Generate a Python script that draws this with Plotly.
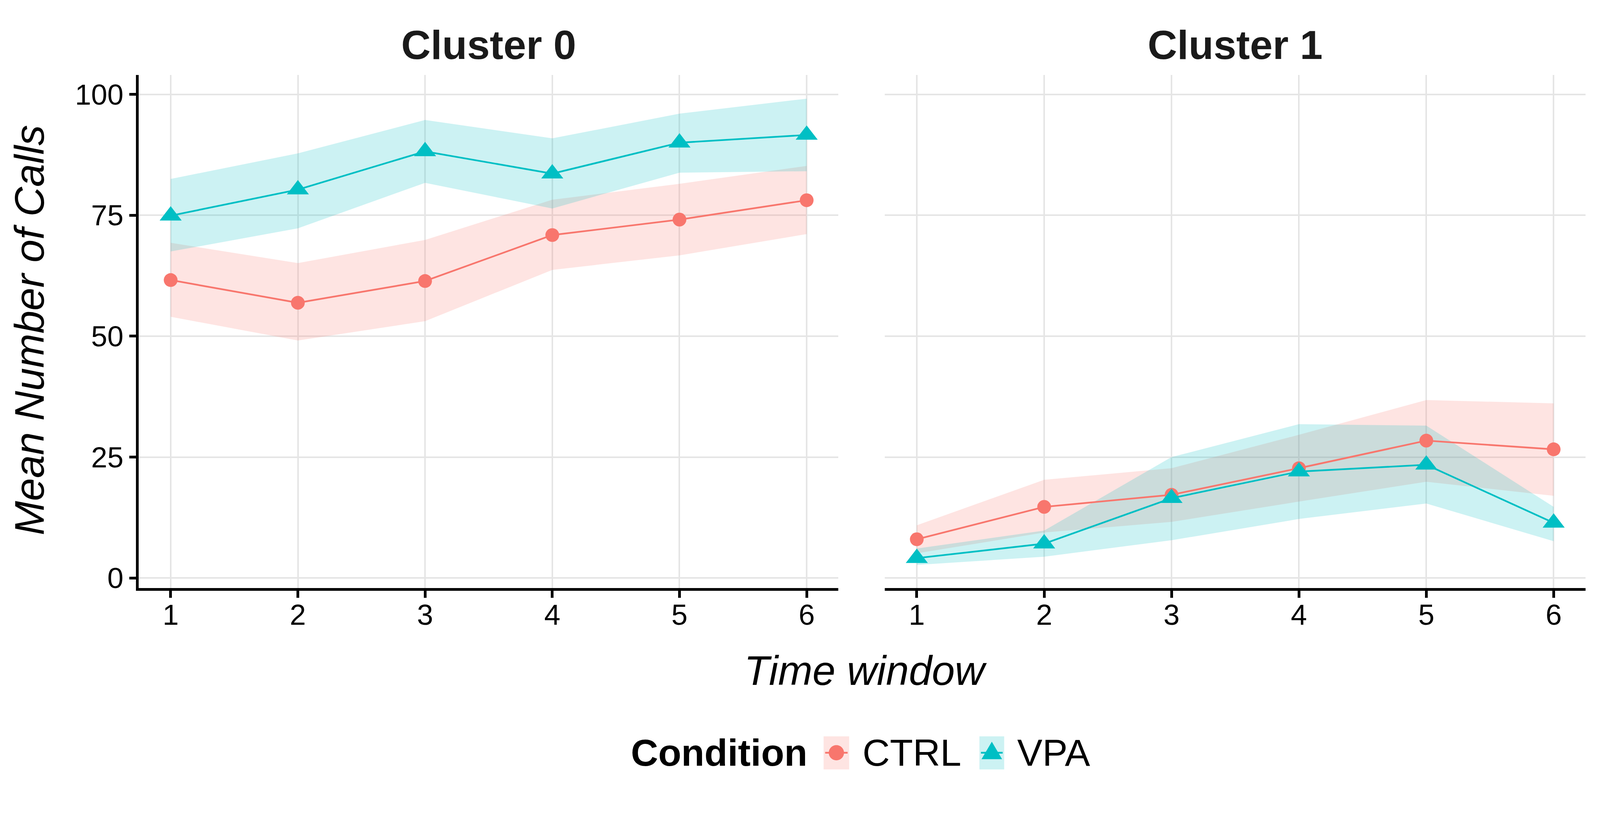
import plotly.graph_objects as go

# ---------------- data ----------------
time_window = [1, 2, 3, 4, 5, 6]
x_ticks = [1, 2, 3, 4, 5, 6]
y_ticks = [0, 25, 50, 75, 100]
clusters = ["Cluster 0", "Cluster 1"]
conditions = ["CTRL", "VPA"]

c0_ctrl_mean = [61.6, 56.9, 61.4, 70.9, 74.1, 78.1]
c0_ctrl_lo = [54.0, 49.1, 53.1, 63.7, 66.7, 71.1]
c0_ctrl_hi = [69.3, 65.1, 69.9, 78.2, 81.5, 85.2]
c0_vpa_mean = [74.9, 80.3, 88.2, 83.6, 90.0, 91.6]
c0_vpa_lo = [67.5, 72.3, 81.7, 76.4, 83.8, 84.1]
c0_vpa_hi = [82.5, 87.8, 94.7, 90.9, 96.0, 99.1]

c1_ctrl_mean = [8.0, 14.7, 17.2, 22.7, 28.4, 26.6]
c1_ctrl_lo = [5.1, 9.4, 11.6, 15.8, 19.9, 17.0]
c1_ctrl_hi = [10.9, 20.3, 22.7, 29.6, 36.8, 36.1]
c1_vpa_mean = [4.1, 7.1, 16.5, 22.0, 23.4, 11.4]
c1_vpa_lo = [2.7, 4.4, 7.8, 12.2, 15.4, 7.6]
c1_vpa_hi = [6.1, 9.8, 25.0, 31.8, 31.5, 14.7]

# ---------------- style ----------------
# The figure fills the browser window (responsive); positions are given in
# reference-image pixels and converted to paper fractions.
W = 4200
K = 1.022          # capture scale relative to CSS pixels
M = 8 * K          # page margin as seen in the capture
FIG_W = W - 2 * M  # figure width as seen in the capture
FIG_H = 2122.0     # figure height as seen in the capture
FONT = "Liberation Sans, Arial, Helvetica, sans-serif"
COL = {"CTRL": "#F8766D", "VPA": "#00BFC4"}
FILL = {"CTRL": "rgba(248,118,109,0.2)", "VPA": "rgba(0,191,196,0.2)"}
SYM = {"CTRL": "circle", "VPA": "triangle-up"}
MSIZE = {"CTRL": 36 / K, "VPA": 50 / K}
GRID = "#E5E5E5"


def px_x(p):
    return (p - M) / FIG_W


def px_y(p):
    return 1 - (p - M) / FIG_H


def fs(v):
    return v / K


panels = [
    ("x", "y", {"CTRL": (c0_ctrl_mean, c0_ctrl_lo, c0_ctrl_hi),
                "VPA": (c0_vpa_mean, c0_vpa_lo, c0_vpa_hi)}),
    ("x2", "y2", {"CTRL": (c1_ctrl_mean, c1_ctrl_lo, c1_ctrl_hi),
                  "VPA": (c1_vpa_mean, c1_vpa_lo, c1_vpa_hi)}),
]

fig = go.Figure()

for xa, ya, series in panels:
    for cond in conditions:
        mean, lo, hi = series[cond]
        fig.add_trace(go.Scatter(
            x=time_window + time_window[::-1],
            y=hi + lo[::-1],
            fill="toself", fillcolor=FILL[cond],
            line=dict(width=0, color="rgba(0,0,0,0)"),
            mode="lines", hoverinfo="skip", showlegend=False,
            xaxis=xa, yaxis=ya,
        ))
    for cond in conditions:
        mean, lo, hi = series[cond]
        fig.add_trace(go.Scatter(
            x=time_window, y=mean, mode="lines+markers", name=cond,
            line=dict(color=COL[cond], width=fs(4.5)),
            marker=dict(symbol=SYM[cond], size=MSIZE[cond], color=COL[cond],
                        line=dict(width=0)),
            showlegend=False, xaxis=xa, yaxis=ya,
        ))

x_range = [0.75, 6.25]
y_range = [-2.1, 104.0]
y_dom = [px_y(1545.5), px_y(197)]

common_x = dict(
    range=x_range, tickvals=x_ticks, ticktext=[str(v) for v in x_ticks],
    showgrid=True, gridcolor=GRID, gridwidth=fs(4), zeroline=False,
    showline=True, linecolor="black", linewidth=fs(7),
    ticks="outside", ticklen=fs(18), tickwidth=fs(7), tickcolor="black",
    tickfont=dict(family=FONT, size=fs(76), color="black"),
    ticklabelstandoff=-20,
    fixedrange=True,
)

fig.update_layout(
    autosize=True,
    margin=dict(l=0, r=0, t=0, b=0, pad=0),
    paper_bgcolor="white", plot_bgcolor="white",
    showlegend=False,
    font=dict(family=FONT, color="black"),
    xaxis=dict(domain=[px_x(364.5), px_x(2201)], anchor="y", **common_x),
    xaxis2=dict(domain=[px_x(2323), px_x(4162)], anchor="y2", **common_x),
    yaxis=dict(
        domain=y_dom, anchor="x", range=y_range, tickvals=y_ticks,
        ticktext=[str(v) for v in y_ticks],
        showgrid=True, gridcolor=GRID, gridwidth=fs(4), zeroline=False,
        showline=True, linecolor="black", linewidth=fs(7),
        ticks="outside", ticklen=fs(18), tickwidth=fs(7), tickcolor="black",
        tickfont=dict(family=FONT, size=fs(76), color="black"),
        fixedrange=True,
    ),
    yaxis2=dict(
        domain=y_dom, anchor="x2", range=y_range, tickvals=y_ticks,
        showticklabels=False,
        showgrid=True, gridcolor=GRID, gridwidth=fs(4), zeroline=False,
        showline=False, ticks="", fixedrange=True,
    ),
)

annotations = []
for name, (x0, x1) in zip(clusters, [(364.5, 2201), (2323, 4162)]):
    annotations.append(dict(
        text="<b>%s</b>" % name, x=px_x((x0 + x1) / 2), y=px_y(117),
        xref="paper", yref="paper", xanchor="center", yanchor="middle",
        showarrow=False, font=dict(family=FONT, size=fs(107), color="#1A1A1A"),
    ))
annotations.append(dict(
    text="<i>Time window</i>", x=px_x(2272), y=px_y(1762),
    xref="paper", yref="paper", xanchor="center", yanchor="middle",
    showarrow=False, font=dict(family=FONT, size=fs(108), color="black"),
))
annotations.append(dict(
    text="<i>Mean Number of Calls</i>", x=px_x(77), y=px_y(868),
    xref="paper", yref="paper", xanchor="center", yanchor="middle",
    textangle=-90, showarrow=False,
    font=dict(family=FONT, size=fs(108), color="black"),
))

# ---------------- manual legend ----------------
LEG_Y = 1978
annotations.append(dict(
    text="<b>Condition</b>", x=px_x(2122), y=px_y(LEG_Y),
    xref="paper", yref="paper", xanchor="right", yanchor="middle",
    showarrow=False, font=dict(family=FONT, size=fs(99), color="black"),
))
legend_items = [("CTRL", 2162, 2229, 2262), ("VPA", 2571, 2636, 2668)]
shapes = []
for cond, kx0, kx1, tx in legend_items:
    shapes.append(dict(type="rect", xref="paper", yref="paper",
                       x0=px_x(kx0), x1=px_x(kx1), y0=px_y(2022), y1=px_y(1935),
                       fillcolor=FILL[cond], line=dict(width=0), layer="above"))
    shapes.append(dict(type="line", xref="paper", yref="paper",
                       x0=px_x(kx0 + 4), x1=px_x(kx1 - 4), y0=px_y(LEG_Y), y1=px_y(LEG_Y),
                       line=dict(color=COL[cond], width=fs(4.5)), layer="above"))
    cx = (kx0 + kx1) / 2
    if cond == "CTRL":
        r = 20
        shapes.append(dict(type="circle", xref="paper", yref="paper",
                           x0=px_x(cx - r), x1=px_x(cx + r),
                           y0=px_y(LEG_Y + r), y1=px_y(LEG_Y - r),
                           fillcolor=COL[cond], line=dict(width=0), layer="above"))
    else:
        hw, top, bot = 27, 1949, 1995
        path = "M %f %f L %f %f L %f %f Z" % (
            px_x(cx - hw), px_y(bot), px_x(cx + hw), px_y(bot), px_x(cx), px_y(top))
        shapes.append(dict(type="path", xref="paper", yref="paper", path=path,
                           fillcolor=COL[cond], line=dict(width=0), layer="above"))
    annotations.append(dict(
        text=cond, x=px_x(tx), y=px_y(LEG_Y),
        xref="paper", yref="paper", xanchor="left", yanchor="middle",
        showarrow=False, font=dict(family=FONT, size=fs(99), color="black"),
    ))

fig.update_layout(annotations=annotations, shapes=shapes)

fig.write_html("out.html")
